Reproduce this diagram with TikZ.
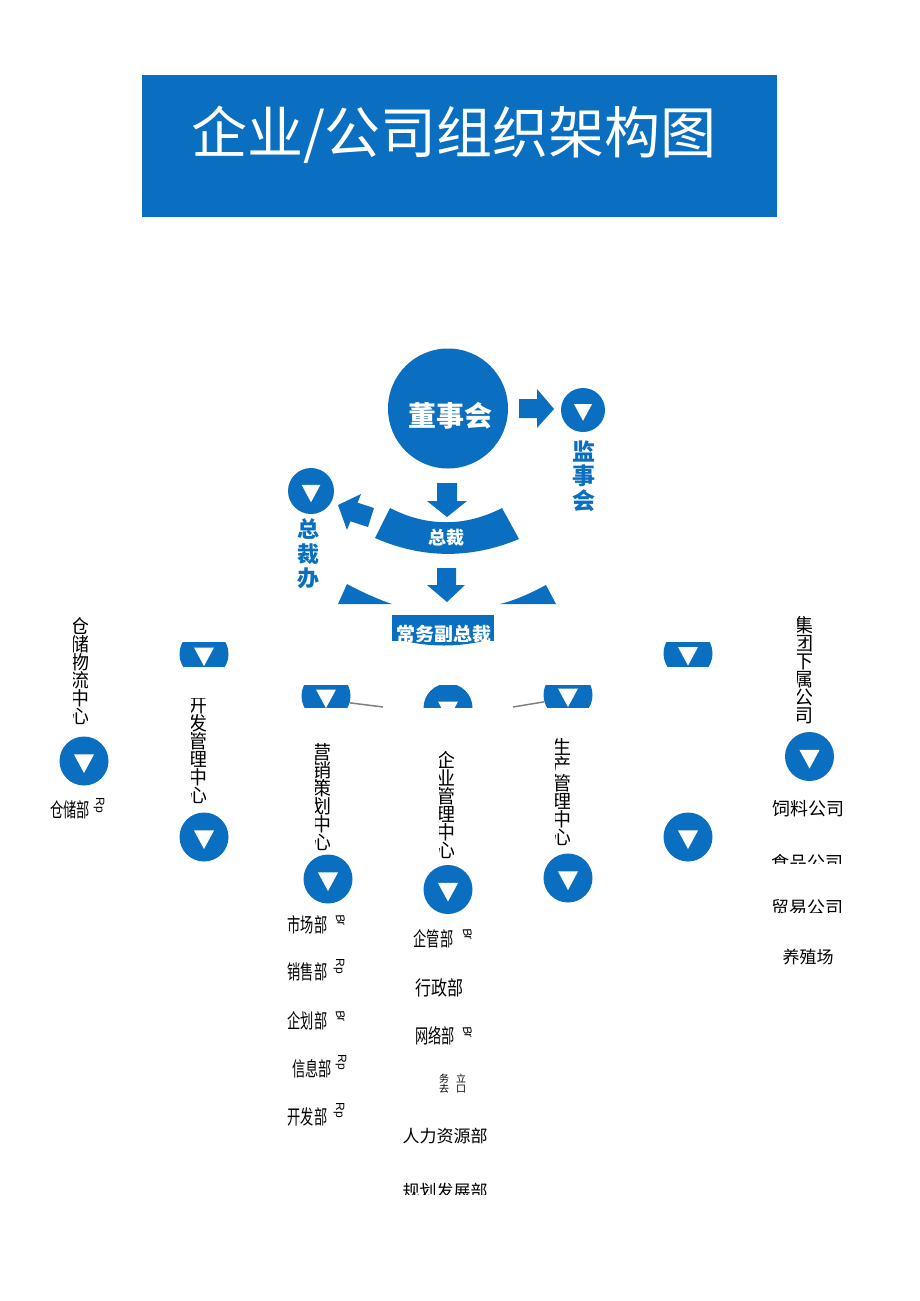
\documentclass[tikz,border=0pt]{standalone}
\usepackage{fontspec}
\setmainfont{Noto Sans CJK SC}
\newfontfamily\latinfont{Liberation Sans}
\definecolor{mainblue}{RGB}{10,111,192}
\newcommand{\narrowtext}[1]{\scalebox{.66}[1]{#1}}
\tikzset{
  btn/.style={circle,fill=mainblue,inner sep=0pt,minimum size=#1},
  blocktext/.style={text=white,font=\bfseries\fontsize{#1}{#1}\selectfont,inner sep=0pt},
  bluelabel/.style={text=mainblue,align=center,inner sep=0pt,text width=26pt,font=\bfseries\fontsize{#1}{24.5}\selectfont},
  vlabel/.style={align=center,inner sep=0pt,anchor=north,text width=19pt,font=\fontsize{19}{18}\selectfont},
  dept/.style={inner sep=0pt,font=\fontsize{#1}{#1}\selectfont},
  rplabel/.style={inner sep=0pt,rotate=-90,font=\latinfont\fontsize{12}{12}\selectfont},
  brlabel/.style={inner sep=0pt,rotate=-78,font=\latinfont\itshape\fontsize{12}{12}\selectfont},
}
\begin{document}
\begin{tikzpicture}[x=1pt,y=-1pt]
\useasboundingbox (0,0) rectangle (920,1301);

\fill[mainblue] (142,75) rectangle (777,217);
\node[text=white,inner sep=0pt,font=\fontsize{56}{56}\selectfont] (title) at (454,135) {企业/公司组织架构图};

\node[btn=120pt] (board) at (448,408.5) {};
\node[blocktext=28] (boardtext) at (450,416) {董事会};

\fill[mainblue] (519,399) -- (537,399) -- (537,389) -- (554,409) -- (537,428) -- (537,418) -- (519,418) -- cycle;
\fill[mainblue] (437,483) -- (457,483) -- (457,501) -- (467,501) -- (447,517) -- (427,501) -- (437,501) -- cycle;
\fill[mainblue] (338,505) -- (361,494) -- (357.6,502.7) -- (374,508) -- (368,527) -- (350.4,521.3) -- (347,530) -- cycle;
\fill[mainblue] (390,508) .. controls (427,527) and (465,527) .. (502,508) -- (519,539) .. controls (471,559) and (423,559) .. (375,538) -- cycle;
\node[blocktext=18] (ceotext) at (446,538) {总裁};
\fill[mainblue] (437,568) -- (456,568) -- (456,585) -- (465,585) -- (447,602) -- (427,585) -- (437,585) -- cycle;

\node[bluelabel=23] (superlabel) at (584,476) {监\\事\\会};
\node[bluelabel=22] (officelabel) at (308,554) {总\\裁\\办};

\fill[mainblue] (338,604) -- (347,584) .. controls (362,592) and (377,599) .. (392,604) -- cycle;
\fill[mainblue] (500,604) .. controls (516,600) and (531,593) .. (546,585) -- (556,604) -- cycle;

\fill[mainblue] (405,641) .. controls (430,647) and (458,647) .. (483,641) -- cycle;
\fill[mainblue] (392,615) rectangle (494,641);
\begin{scope}
\clip (392,615) rectangle (494,641);
\node[blocktext=19] (deputytext) at (444,634) {常务副总裁};
\end{scope}

\foreach \name/\x/\y/\r in {superbtn/583/410/22, officebtn/311/491/23, storebtn/84/761/24.5, devbtn/204/837/24.5, mktbtn/328/879/24.5, mgmtbtn/448/889.5/24.5, prodbtn/568/878/24.5, rightbtn/688/837/24.5, groupbtn/809.5/756.5/24.5}{
  \node[btn=2*\r pt] (\name) at (\x,\y) {};
  \fill[white] (\x-.41*\r,\y-.27*\r) -- (\x+.41*\r,\y-.27*\r) -- (\x,\y+.49*\r) -- cycle;
}

\foreach \name/\x/\y/\ya/\yb in {devcut/204/654/642/666, rightcut/688/653.5/642/666, mktcut/326/696/685/707, mgmtcut/448/708/685/707, prodcut/568/695/685/707}{
  \begin{scope}
  \clip (\x-30,\ya) rectangle (\x+30,\yb);
  \node[btn=49pt] (\name) at (\x,\y) {};
  \fill[white] (\x-10,\y-6.5) -- (\x+10,\y-6.5) -- (\x,\y+12) -- cycle;
  \end{scope}
}

\coordinate (mktend) at (383,707);
\coordinate (prodend) at (513,707);
\draw[gray,line width=1.5pt] (mktcut.-16) -- (mktend);
\draw[gray,line width=1.5pt] (prodcut.196) -- (prodend);

\foreach \name/\x/\y/\txt in {storetext/80/617/{仓\\储\\物\\流\\中\\心}, devtext/198/698/{开\\发\\管\\理\\中\\心}, mkttext/322/743/{营\\销\\策\\划\\中\\心}, mgmttext/446/751/{企\\业\\管\\理\\中\\心}, prodtext/562/738/{生\\产\\管\\理\\中\\心}, grouptext/804/616/{集\\团\\下\\属\\公\\司}}{
  \begin{scope}
  \clip (\x-7,\y) rectangle (\x+7,\y+108);
  \node[vlabel] (\name) at (\x,\y) {\txt};
  \end{scope}
}

\foreach \name/\x/\y/\txt in {storedept/70/810/仓储部, marketdept/307.5/924.5/市场部, salesdept/307.5/972/销售部, plandept/307.5/1020.5/企划部, infodept/312/1068.5/信息部, rnddept/307.5/1117/开发部, admindept/433.5/939/企管部, networkdept/435/1036/网络部}{
  \node[dept=20] (\name) at (\x,\y) {\narrowtext{\txt}};
}
\node[dept=20] (officedept) at (439,988) {\scalebox{.8}[1]{行政部}};

\foreach \name/\x/\y in {rpstore/99/805, rpsales/339/966, rpinfo/341/1062, rprnd/339/1110}{
  \node[rplabel] (\name) at (\x,\y) {Rp};
}
\foreach \name/\x/\y in {brmarket/341/920, brplan/341/1016, bradmin/468/934, brnetwork/468/1032}{
  \node[brlabel] (\name) at (\x,\y) {Br};
}

\node[inner sep=0pt,align=center,font=\fontsize{10}{10}\selectfont] (financea) at (444,1084) {务\\去};
\node[inner sep=0pt,align=center,font=\fontsize{10}{10}\selectfont] (financeb) at (461,1084) {立\\口};

\node[dept=17] (hrdept) at (445,1136.5) {人力资源部};
\begin{scope}
\clip (390,1170) rectangle (500,1194);
\node[dept=17] (plandev) at (445,1191) {规划发展部};
\end{scope}

\foreach \name/\x/\y/\yb/\txt in {feedco/808/809/816/饲料公司, foodco/807/863/863/食品公司, tradeco/807/908/912/贸易公司}{
  \begin{scope}
  \clip (\x-40,\y-20) rectangle (\x+40,\yb);
  \node[dept=18] (\name) at (\x,\y) {\txt};
  \end{scope}
}
\node[dept=17] (farmco) at (808,957.5) {养殖场};

\end{tikzpicture}
\end{document}
